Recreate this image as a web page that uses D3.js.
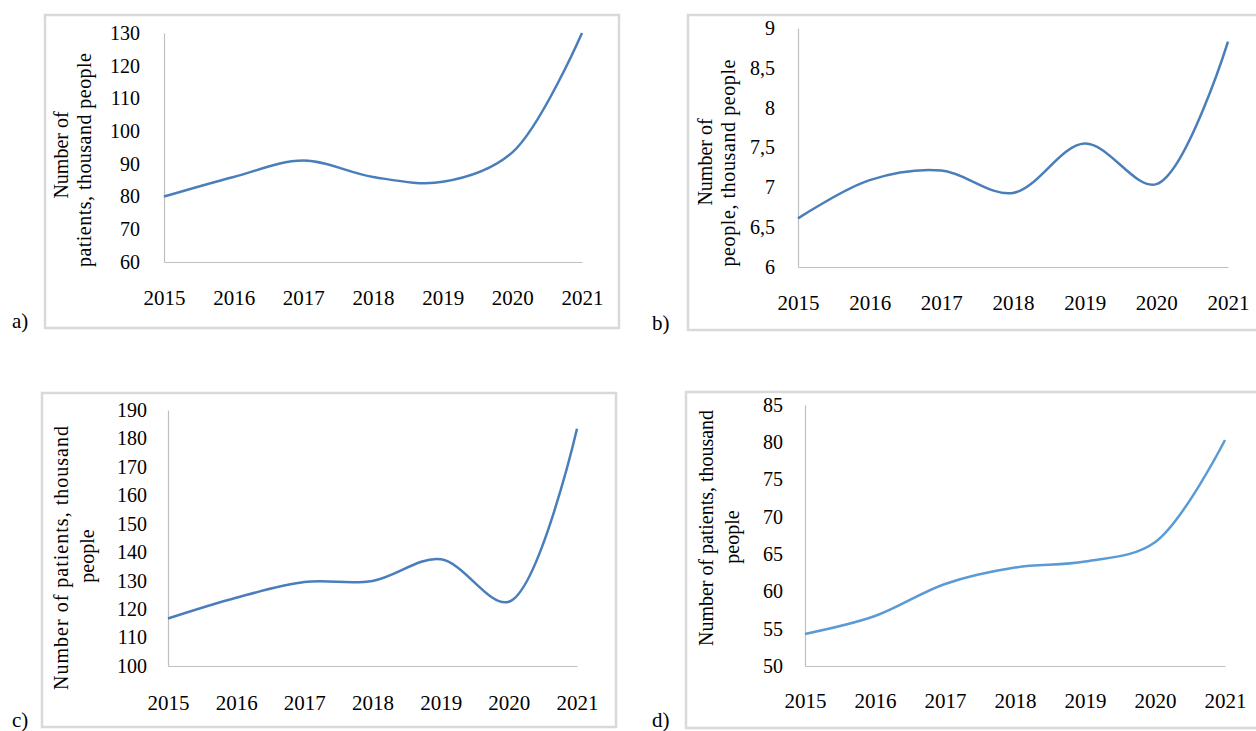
<!DOCTYPE html>
<html>
<head>
<meta charset="utf-8">
<script src="https://cdn.jsdelivr.net/npm/d3@7"></script>
<style>
  body { margin: 0; background: #fff; }
  svg text { font-family: "Liberation Serif", "Times New Roman", serif; fill: #000; }
</style>
</head>
<body>
<svg id="canvas"></svg>
<script>
let years = ["2015", "2016", "2017", "2018", "2019", "2020", "2021"];

let valuesA = [80, 86, 91, 86, 84.5, 93.5, 130];
let valuesB = [6.61, 7.09, 7.21, 6.93, 7.55, 7.04, 8.83];
let valuesC = [116.7, 124, 129.5, 129.9, 137.5, 122.6, 183.4];
let valuesD = [54.3, 56.7, 61, 63.2, 64, 66.6, 80.3];

let ticksA = [60, 70, 80, 90, 100, 110, 120, 130];
let ticksB = [6, 6.5, 7, 7.5, 8, 8.5, 9];
let ticksC = [100, 110, 120, 130, 140, 150, 160, 170, 180, 190];
let ticksD = [50, 55, 60, 65, 70, 75, 80, 85];

let titleA = ["Number of", "patients, thousand people"];
let titleB = ["Number of", "people, thousand people"];
let titleC = ["Number of patients, thousand", "people"];
let titleD = ["Number of patients, thousand", "people"];

let width = 1256;
let height = 731;

let canvas = d3.select("#canvas")
    .attr("width", width)
    .attr("height", height);

// layout of the four panels (titleLen 0 = natural width)
let panels = [
    { tag: "a)", vals: valuesA, ticks: ticksA, title: titleA, color: "#4a7ebb",
      frame: [45, 15, 619, 328], x0: 164, x1: 582, yTop: 33, yBot: 262, tickR: 140,
      titleX: [62, 85], titleY: [155, 160], titleLen: [0, 214],
      tagX: 12, tagY: 328, xLabY: 305 },
    { tag: "b)", vals: valuesB, ticks: ticksB, title: titleB, color: "#4a7ebb",
      frame: [688, 15, 1272, 330], x0: 798, x1: 1228, yTop: 28, yBot: 267, tickR: 775,
      titleX: [706, 729], titleY: [162, 163], titleLen: [0, 207],
      tagX: 652, tagY: 330, xLabY: 310 },
    { tag: "c)", vals: valuesC, ticks: ticksC, title: titleC, color: "#4a7ebb",
      frame: [42, 393, 616, 727], x0: 168, x1: 577, yTop: 410, yBot: 666, tickR: 147,
      titleX: [62, 88], titleY: [558, 556], titleLen: [264, 0],
      tagX: 12, tagY: 727, xLabY: 710 },
    { tag: "d)", vals: valuesD, ticks: ticksD, title: titleD, color: "#5b9bd5",
      frame: [686, 392, 1272, 728], x0: 805, x1: 1225, yTop: 405, yBot: 666, tickR: 783,
      titleX: [707, 733], titleY: [528, 537], titleLen: [236, 0],
      tagX: 652, tagY: 727, xLabY: 708 }
];

let fmt = d => String(d).replace(".", ",");

panels.forEach(p => {
    let g = canvas.append("g");
    let f = p.frame;

    g.append("rect")
        .attr("x", f[0]).attr("y", f[1])
        .attr("width", f[2] - f[0]).attr("height", f[3] - f[1])
        .attr("fill", "none")
        .attr("stroke", "#d9d9d9")
        .attr("stroke-width", 2.5);

    let x = d3.scalePoint().domain(years).range([p.x0, p.x1]);
    let y = d3.scaleLinear()
        .domain([p.ticks[0], p.ticks[p.ticks.length - 1]])
        .range([p.yBot, p.yTop]);

    // y axis
    let ya = g.append("g")
        .attr("transform", "translate(" + p.x0 + ",0)")
        .call(d3.axisLeft(y).tickValues(p.ticks).tickSize(0).tickPadding(p.x0 - p.tickR).tickFormat(fmt));
    ya.select(".domain").attr("stroke", "#bfbfbf").attr("stroke-width", 1.2);
    ya.selectAll("text")
        .style("font-family", "Liberation Serif")
        .style("font-size", "20px");

    // x axis
    let xa = g.append("g")
        .attr("transform", "translate(0," + p.yBot + ")")
        .call(d3.axisBottom(x).tickSize(0).tickPadding(0));
    xa.select(".domain").attr("stroke", "#bfbfbf").attr("stroke-width", 1.2);
    xa.selectAll("text")
        .attr("dy", 0)
        .attr("y", p.xLabY - p.yBot)
        .style("font-family", "Liberation Serif")
        .style("font-size", "21px");

    // axis title
    p.title.forEach((t, i) => {
        let tt = g.append("text")
            .attr("transform", "translate(" + p.titleX[i] + "," + p.titleY[i] + ") rotate(-90)")
            .attr("text-anchor", "middle")
            .attr("dy", "0.3em")
            .style("font-size", "20px")
            .text(t);
        if (p.titleLen[i]) {
            tt.attr("textLength", p.titleLen[i]).attr("lengthAdjust", "spacing");
        }
    });

    // smoothed line
    let line = d3.line()
        .x((d, i) => x(years[i]))
        .y(d => y(d))
        .curve(d3.curveCatmullRom.alpha(0.5));

    g.append("path")
        .datum(p.vals)
        .attr("d", line)
        .attr("fill", "none")
        .attr("stroke", p.color)
        .attr("stroke-width", 2.5);

    g.append("text")
        .attr("x", p.tagX)
        .attr("y", p.tagY)
        .style("font-size", "21px")
        .text(p.tag);
});
</script>
</body>
</html>
